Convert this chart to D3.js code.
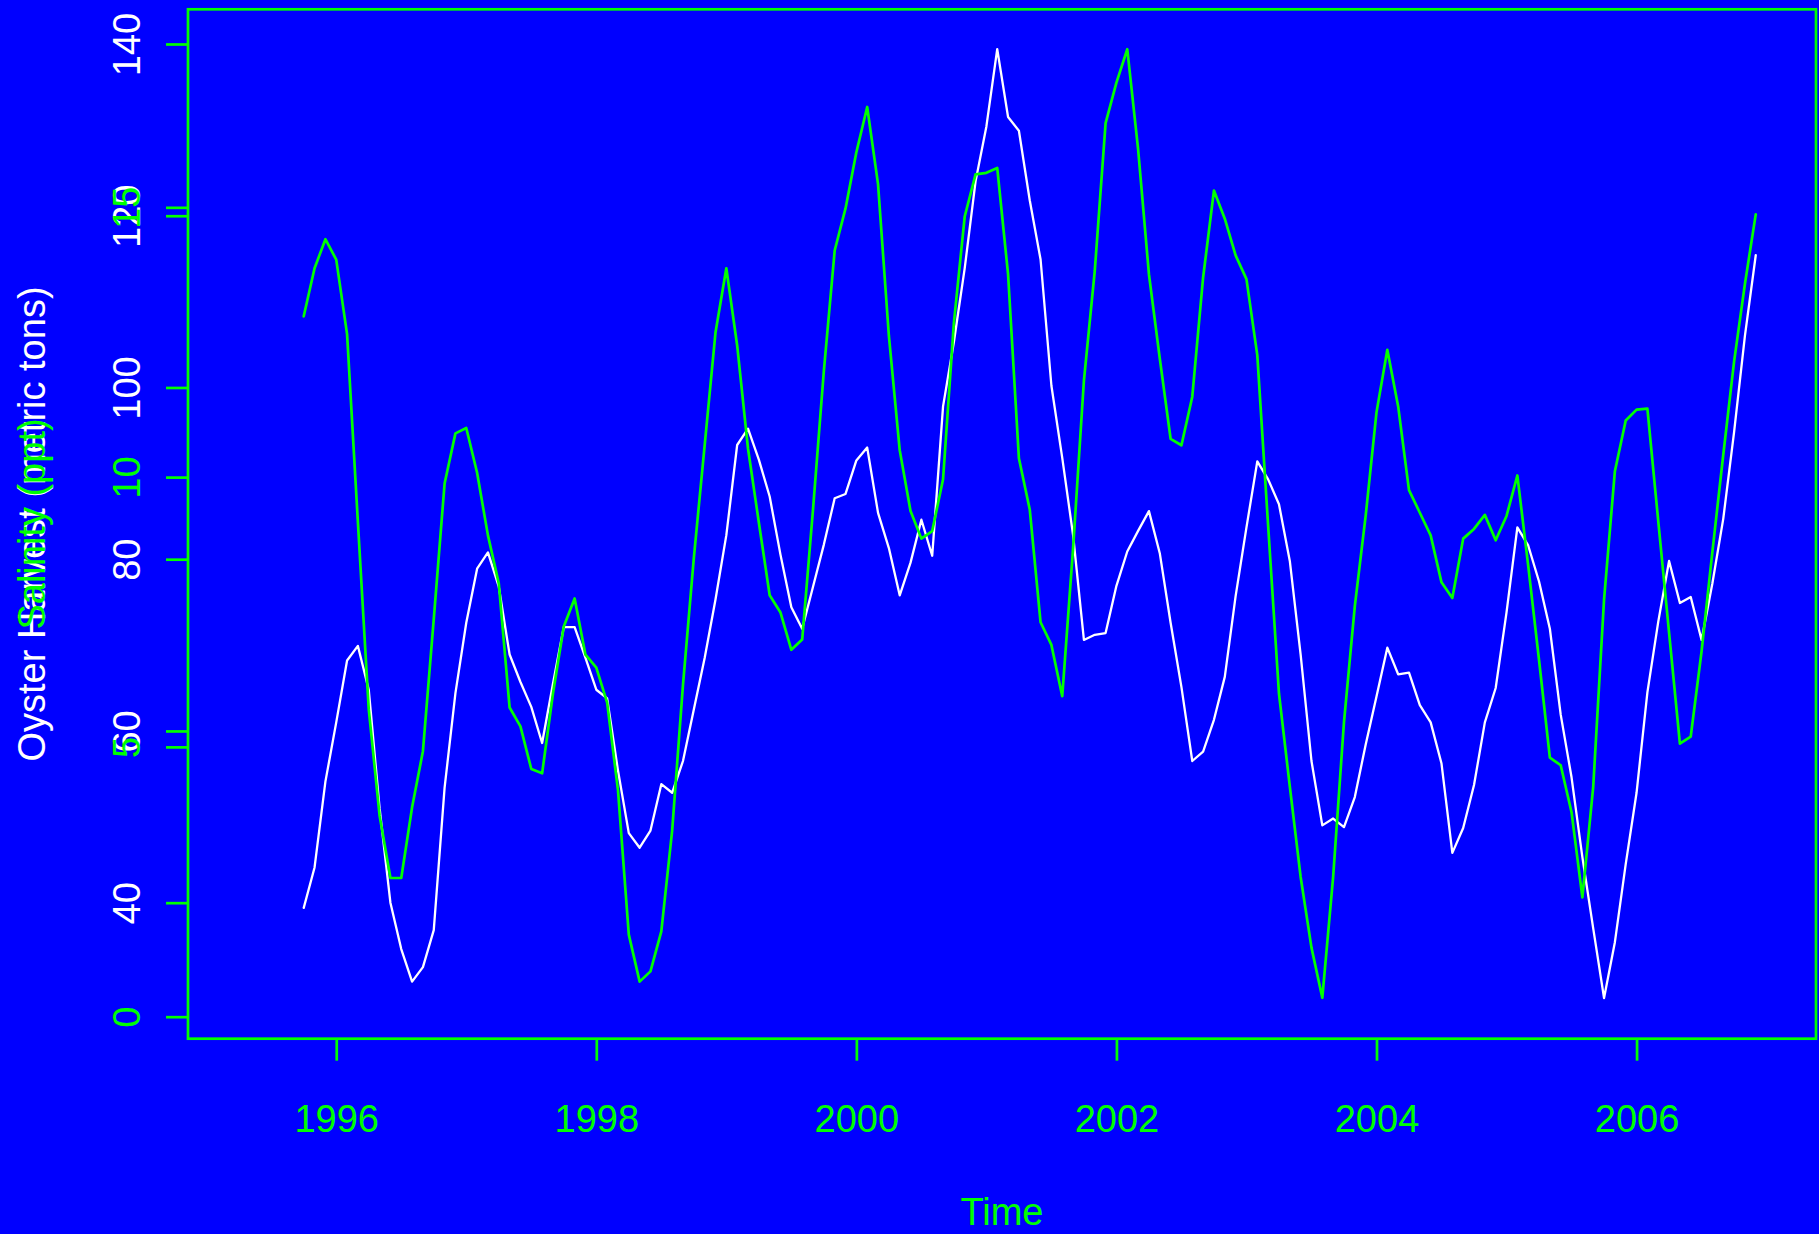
<!DOCTYPE html>
<html>
<head>
<meta charset="utf-8">
<script src="https://cdn.jsdelivr.net/npm/d3@7"></script>
<style>
  html, body { margin: 0; padding: 0; background: #0000FF; }
  svg { display: block; }
  text { font-family: "Liberation Sans", Arial, Helvetica, sans-serif; }
</style>
</head>
<body>
<svg id="chart" width="1819" height="1234"></svg>
<script>
// Monthly series, October 1995 through December 2006
const startYear = 1995.75;

// Oyster harvest (metric tons)
const harvest = [
  39.4, 44.1, 54.1,
  61.0, 68.2, 69.9, 64.8, 51.0, 40.0, 34.6, 30.8, 32.5, 36.8, 53.4, 64.4,
  72.6, 78.9, 80.8, 76.8, 68.9, 65.7, 62.8, 58.6, 65.5, 72.1, 72.1, 68.5,
  64.8, 63.8, 55.4, 48.1, 46.4, 48.4, 53.8, 52.8, 56.5, 62.5, 68.5, 75.3,
  82.8, 93.3, 95.2, 91.6, 87.3, 80.5, 74.4, 71.9, 76.8, 81.7, 87.1, 87.6,
  91.5, 93.0, 85.4, 81.3, 75.8, 79.6, 84.6, 80.4, 97.8, 105.3, 113.9, 124.0,
  130.4, 139.4, 131.5, 129.9, 121.8, 114.9, 100.2, 91.8, 82.8, 70.6, 71.2, 71.4,
  76.9, 80.9, 83.3, 85.6, 80.7, 72.6, 65.1, 56.5, 57.6, 61.3, 66.3, 75.7,
  83.7, 91.4, 89.3, 86.4, 79.8, 68.9, 56.5, 49.0, 49.8, 48.8, 52.3, 58.4,
  64.0, 69.7, 66.6, 66.8, 63.0, 61.0, 56.2, 45.8, 48.7, 53.7, 61.0, 65.0,
  73.8, 83.7, 81.6, 77.4, 71.9, 61.9, 54.6, 45.3, 37.0, 28.9, 35.4, 44.5,
  52.8, 64.5, 72.7, 79.8, 74.9, 75.6, 70.6, 77.2, 84.7, 94.8, 106.0, 115.4
];

// Salinity (ppt)
const salinity = [
  12.98, 13.87, 14.41,
  14.03, 12.65, 9.16, 5.70, 3.73, 2.57, 2.57, 3.88, 4.92, 7.37, 9.88, 10.81,
  10.91, 10.08, 8.92, 8.03, 5.73, 5.38, 4.59, 4.51, 5.99, 7.23, 7.75, 6.71,
  6.47, 5.82, 4.20, 1.52, 0.65, 0.84, 1.58, 3.45, 6.15, 8.50, 10.59, 12.68,
  13.87, 12.44, 10.53, 9.16, 7.81, 7.49, 6.80, 6.99, 9.40, 11.97, 14.20, 14.98,
  16.02, 16.86, 15.43, 12.62, 10.50, 9.37, 8.86, 9.00, 9.96, 12.86, 14.83, 15.61,
  15.64, 15.73, 13.76, 10.35, 9.40, 7.31, 6.89, 5.94, 8.68, 11.79, 13.82, 16.56,
  17.31, 17.93, 16.08, 13.76, 12.20, 10.71, 10.59, 11.49, 13.70, 15.31, 14.79, 14.11,
  13.67, 12.26, 9.10, 5.99, 4.27, 2.59, 1.28, 0.35, 2.59, 5.46, 7.61, 9.28,
  11.20, 12.36, 11.31, 9.76, 9.34, 8.92, 8.05, 7.76, 8.86, 9.04, 9.30, 8.83,
  9.28, 10.03, 8.36, 6.61, 4.80, 4.66, 3.79, 2.21, 4.26, 7.73, 10.11, 11.05,
  11.25, 11.27, 9.19, 7.12, 5.06, 5.19, 6.77, 8.62, 10.41, 12.14, 13.58, 14.87
];

const yearTicks = [1996, 1998, 2000, 2002, 2004, 2006];
const harvestTicks = [40, 60, 80, 100, 120, 140];
const salinityTicks = [0, 5, 10, 15];

const xTitle = "Time";
const harvestTitle = "Oyster Harvest (metric tons)";
const salinityTitle = "Salinity (ppt)";

// ---- layout ----
const BLUE = "#0000FF", GREEN = "#00FF00", WHITE = "#FFFFFF";
const plot = { left: 188, right: 1816, top: 9.3, bottom: 1038.7 };
const fontSize = 38;

const svg = d3.select("#chart");
svg.append("rect").attr("width", 1819).attr("height", 1234).attr("fill", BLUE);

const x = d3.scaleLinear().domain([1994.86, 2007.38]).range([plot.left, plot.right]);
const yH = d3.scaleLinear().domain([24.16, 144.04]).range([plot.bottom, plot.top]);
const yS = d3.scaleLinear().domain([-0.408, 18.67]).range([plot.bottom, plot.top]);

const t = i => startYear + i / 12;

// series lines: harvest first, salinity over it
const lineH = d3.line().x((d, i) => x(t(i))).y(d => yH(d));
const lineS = d3.line().x((d, i) => x(t(i))).y(d => yS(d));

svg.append("path").datum(harvest)
  .attr("d", lineH).attr("fill", "none").attr("stroke", WHITE)
  .attr("stroke-width", 2.3).attr("stroke-linejoin", "round").attr("stroke-linecap", "round");

svg.append("path").datum(salinity)
  .attr("d", lineS).attr("fill", "none").attr("stroke", GREEN)
  .attr("stroke-width", 2.7).attr("stroke-linejoin", "round").attr("stroke-linecap", "round");

// frame
svg.append("rect")
  .attr("x", plot.left).attr("y", plot.top)
  .attr("width", plot.right - plot.left).attr("height", plot.bottom - plot.top)
  .attr("fill", "none").attr("stroke", GREEN).attr("stroke-width", 2.7);

// left axes: rotated labels with their baseline near the ticks
function leftAxis(scale, ticks, labelColor) {
  const g = svg.append("g").attr("transform", `translate(${plot.left},0)`)
    .call(d3.axisLeft(scale).tickValues(ticks).tickSize(22).tickFormat(d3.format("d")));
  g.select(".domain").remove();
  g.selectAll(".tick line").attr("stroke", GREEN).attr("stroke-width", 2.7);
  g.selectAll(".tick text")
    .attr("x", null).attr("dy", null)
    .attr("transform", "translate(-48,0) rotate(-90)")
    .attr("text-anchor", "middle")
    .attr("fill", labelColor)
    .style("font-size", fontSize + "px")
    .style("font-family", '"Liberation Sans", Arial, sans-serif');
}
leftAxis(yH, harvestTicks, WHITE);
leftAxis(yS, salinityTicks, GREEN);

// bottom axis
const gx = svg.append("g").attr("transform", `translate(0,${plot.bottom})`)
  .call(d3.axisBottom(x).tickValues(yearTicks).tickSize(22).tickFormat(d3.format("d")));
gx.select(".domain").remove();
gx.selectAll(".tick line").attr("stroke", GREEN).attr("stroke-width", 2.7);
gx.selectAll(".tick text")
  .attr("y", 93).attr("dy", null)
  .attr("fill", GREEN)
  .style("font-size", fontSize + "px")
  .style("font-family", '"Liberation Sans", Arial, sans-serif');

// axis titles
svg.append("text")
  .attr("x", (plot.left + plot.right) / 2).attr("y", 1225)
  .attr("text-anchor", "middle").attr("fill", GREEN)
  .style("font-size", fontSize + "px").text(xTitle);

const midY = (plot.top + plot.bottom) / 2;
svg.append("text")
  .attr("transform", `translate(45,${midY}) rotate(-90)`)
  .attr("text-anchor", "middle").attr("fill", WHITE)
  .style("font-size", fontSize + "px").text(harvestTitle);
svg.append("text")
  .attr("transform", `translate(45,${midY}) rotate(-90)`)
  .attr("text-anchor", "middle").attr("fill", GREEN)
  .style("font-size", fontSize + "px").text(salinityTitle);
</script>
</body>
</html>
